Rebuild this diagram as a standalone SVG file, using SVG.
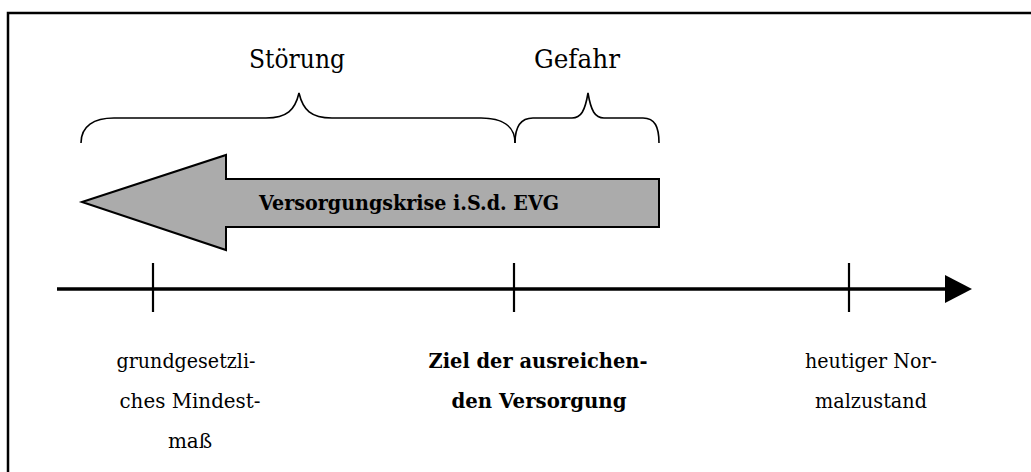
<svg xmlns="http://www.w3.org/2000/svg" width="1031" height="472" viewBox="0 0 1031 472">
<style>
.frame{fill:none;stroke:#000;stroke-width:2.5}
.brace{fill:none;stroke:#000;stroke-width:1.6}
.t{font-family:"DejaVu Serif","Liberation Serif",serif;fill:#000;text-anchor:middle}
.top{font-size:26px}
.lbl{font-size:20px}
.b{font-weight:bold}
.axis{stroke:#000;stroke-width:3.5}
.tick{stroke:#000;stroke-width:2.2}
</style>
<rect width="1031" height="472" fill="#fff"/>
<path class="frame" d="M8,472 V13 H1031"/>
<g id="brace-stoerung">
<path class="brace" d="M81,143 C81,126 94,118 114,118 L266,118 C287,118 295,110 299,93 C303,110 311,118 332,118 L481,118 C502,118 515,126 515,143"/>
<text class="t top" x="297" y="68" textLength="96" lengthAdjust="spacingAndGlyphs">Störung</text>
</g>
<g id="brace-gefahr">
<path class="brace" d="M515,143 C515,127 521,118 533,118 L572,118 C581,118 585,111 588,93 C591,111 595,118 604,118 L643,118 C655,118 659,127 659,143"/>
<text class="t top" x="577" y="68" textLength="86" lengthAdjust="spacingAndGlyphs">Gefahr</text>
</g>
<g id="versorgungskrise">
<polygon points="82,202 226,155 226,179 659,179 659,227 226,227 226,250" fill="#ababab" stroke="#000" stroke-width="2" stroke-linejoin="miter"/>
<text class="t b" x="409" y="210" font-size="21" textLength="300" lengthAdjust="spacingAndGlyphs">Versorgungskrise i.S.d. EVG</text>
</g>
<g id="connectors">
<line class="axis" x1="57" y1="289" x2="948" y2="289"/>
<polygon points="945,275 945,303 972,289" fill="#000"/>
<line class="tick" x1="153" y1="263" x2="153" y2="312"/>
<line class="tick" x1="514" y1="263" x2="514" y2="312"/>
<line class="tick" x1="849" y1="263" x2="849" y2="312"/>
</g>
<g id="mindestmass">
<text class="t lbl" x="186" y="368" textLength="139" lengthAdjust="spacingAndGlyphs">grundgesetzli-</text>
<text class="t lbl" x="190" y="408" textLength="141" lengthAdjust="spacingAndGlyphs">ches Mindest-</text>
<text class="t lbl" x="190" y="448">maß</text>
</g>
<g id="ziel">
<text class="t lbl b" x="538" y="368" textLength="219" lengthAdjust="spacingAndGlyphs">Ziel der ausreichen-</text>
<text class="t lbl b" x="539" y="408" textLength="175" lengthAdjust="spacingAndGlyphs">den Versorgung</text>
</g>
<g id="normalzustand">
<text class="t lbl" x="871" y="368" textLength="132" lengthAdjust="spacingAndGlyphs">heutiger Nor-</text>
<text class="t lbl" x="871" y="408" textLength="112" lengthAdjust="spacingAndGlyphs">malzustand</text>
</g>
</svg>
